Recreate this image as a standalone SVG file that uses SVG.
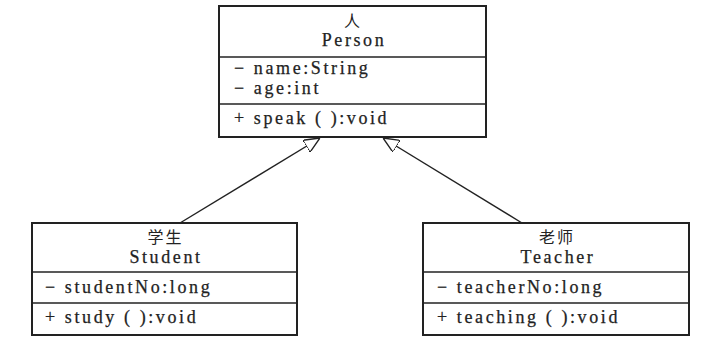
<svg xmlns="http://www.w3.org/2000/svg" width="722" height="353" viewBox="0 0 722 353">
<defs>
<style>
.box{fill:#fff;stroke:#222;stroke-width:2}
.div{stroke:#222;stroke-width:1.6}
.t{font-family:"Liberation Serif","Noto Sans CJK SC",serif;font-size:18px;letter-spacing:2.6px;fill:#222;stroke:#222;stroke-width:0.25}
.c{text-anchor:middle}
.cjk{font-family:"Noto Sans CJK SC","Liberation Serif",serif;font-size:16px;letter-spacing:2px;fill:#222;text-anchor:middle}
.edge{stroke:#222;stroke-width:1.4;fill:none}
</style>
<marker id="tri" viewBox="0 0 16 14" refX="16" refY="7" markerWidth="16" markerHeight="14" markerUnits="userSpaceOnUse" orient="auto">
<path d="M0,0 L16,7 L0,14 Z" fill="#fff" stroke="#222" stroke-width="1.4"/>
</marker>
</defs>
<rect width="722" height="353" fill="#fff"/>
<g id="connectors">
<line class="edge" x1="180" y1="223" x2="320" y2="138" marker-end="url(#tri)"/>
<line class="edge" x1="522" y1="223" x2="383" y2="138" marker-end="url(#tri)"/>
</g>
<g id="person">
<rect class="box" x="219" y="6" width="267" height="131"/>
<line class="div" x1="219" y1="57" x2="486" y2="57"/>
<line class="div" x1="219" y1="104" x2="486" y2="104"/>
<text class="cjk" x="353" y="27">人</text>
<text class="t c" x="354" y="46">Person</text>
<text class="t" x="234" y="74">− name:String</text>
<text class="t" x="234" y="94">− age:int</text>
<text class="t" x="234" y="124">+ speak ( ):void</text>
</g>
<g id="student">
<rect class="box" x="32" y="223" width="265" height="112"/>
<line class="div" x1="32" y1="272" x2="297" y2="272"/>
<line class="div" x1="32" y1="303" x2="297" y2="303"/>
<text class="cjk" x="165.5" y="243">学生</text>
<text class="t c" x="166" y="263">Student</text>
<text class="t" x="45" y="293">− studentNo:long</text>
<text class="t" x="45" y="323">+ study ( ):void</text>
</g>
<g id="teacher">
<rect class="box" x="423" y="223" width="266" height="112"/>
<line class="div" x1="423" y1="272" x2="689" y2="272"/>
<line class="div" x1="423" y1="303" x2="689" y2="303"/>
<text class="cjk" x="557" y="243">老师</text>
<text class="t c" x="558" y="263">Teacher</text>
<text class="t" x="437" y="293">− teacherNo:long</text>
<text class="t" x="437" y="323">+ teaching ( ):void</text>
</g>
</svg>
